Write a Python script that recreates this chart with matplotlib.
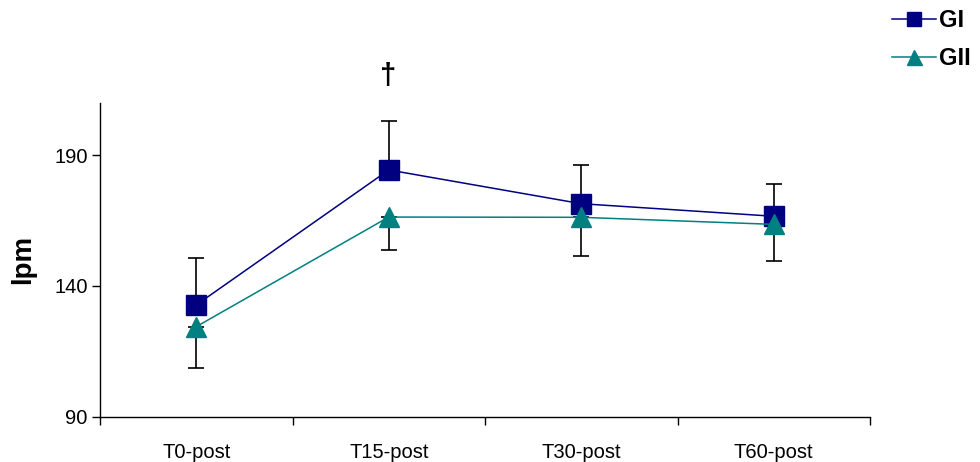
import matplotlib.pyplot as plt
import numpy as np

plt.rcParams['font.family'] = ['Liberation Sans', 'DejaVu Sans']

# data
times = ['T0-post', 'T15-post', 'T30-post', 'T60-post']
gi = [132.7, 184.3, 171.4, 166.6]
gi_err_up = [17.8, 18.7, 14.9, 12.5]
gii = [124.4, 166.3, 166.2, 163.5]
gii_err_down = [15.8, 12.7, 14.8, 14.0]

x = np.arange(len(times))

fig = plt.figure(figsize=(9.8, 4.62), dpi=100)
ax = fig.add_axes([100 / 980, 45.3 / 462, 770 / 980, 314 / 462])

# error bars: GI upward, GII downward
ax.errorbar(x, gi, yerr=[np.zeros(len(gi)), gi_err_up], fmt='none',
            ecolor='black', elinewidth=1.2, capsize=5.5, capthick=1.2, zorder=2)
ax.errorbar(x, gii, yerr=[gii_err_down, np.zeros(len(gii))], fmt='none',
            ecolor='black', elinewidth=1.2, capsize=5.5, capthick=1.2, zorder=2)

ax.plot(x, gi, color='#000080', lw=1.1, marker='s', ms=14,
        markerfacecolor='#000080', markeredgecolor='#000080', label='GI', zorder=3)
ax.plot(x, gii, color='#008080', lw=1.1, marker='^', ms=15,
        markerfacecolor='#008080', markeredgecolor='#008080', label='GII', zorder=4)

ax.set_xlim(-0.5, 3.5)
ax.set_ylim(90, 210)
ax.set_yticks([90, 140, 190])
ax.set_xticks(x)
ax.set_xticklabels(times)
ax.set_xticks(np.arange(-0.5, 4, 1), minor=True)
ax.tick_params(axis='x', which='major', length=0, pad=19, labelsize=14.5)
ax.tick_params(axis='x', which='minor', length=6, width=1, direction='out')
ax.tick_params(axis='y', length=6, width=1, direction='out', labelsize=14.5, pad=3)

for s in ['top', 'right']:
    ax.spines[s].set_visible(False)
for s in ['left', 'bottom']:
    ax.spines[s].set_linewidth(1)

ax.set_ylabel('lpm', fontsize=20, fontweight='bold')
ax.yaxis.set_label_coords(-64 / 770, 0.5)

# significance mark above T15
fig.text(388 / 980, 1 - 76 / 462, '\u2020', fontsize=21, fontweight='bold',
         ha='center', va='center')

leg = fig.legend(loc='upper left', bbox_to_anchor=(892 / 980, 1 - 9 / 462),
                 frameon=False, prop={'weight': 'bold', 'size': 17},
                 handlelength=1.85, handletextpad=0.15, labelspacing=0.63,
                 borderaxespad=0, borderpad=0, markerscale=0.72)

fig.savefig('out.png', dpi=100)
